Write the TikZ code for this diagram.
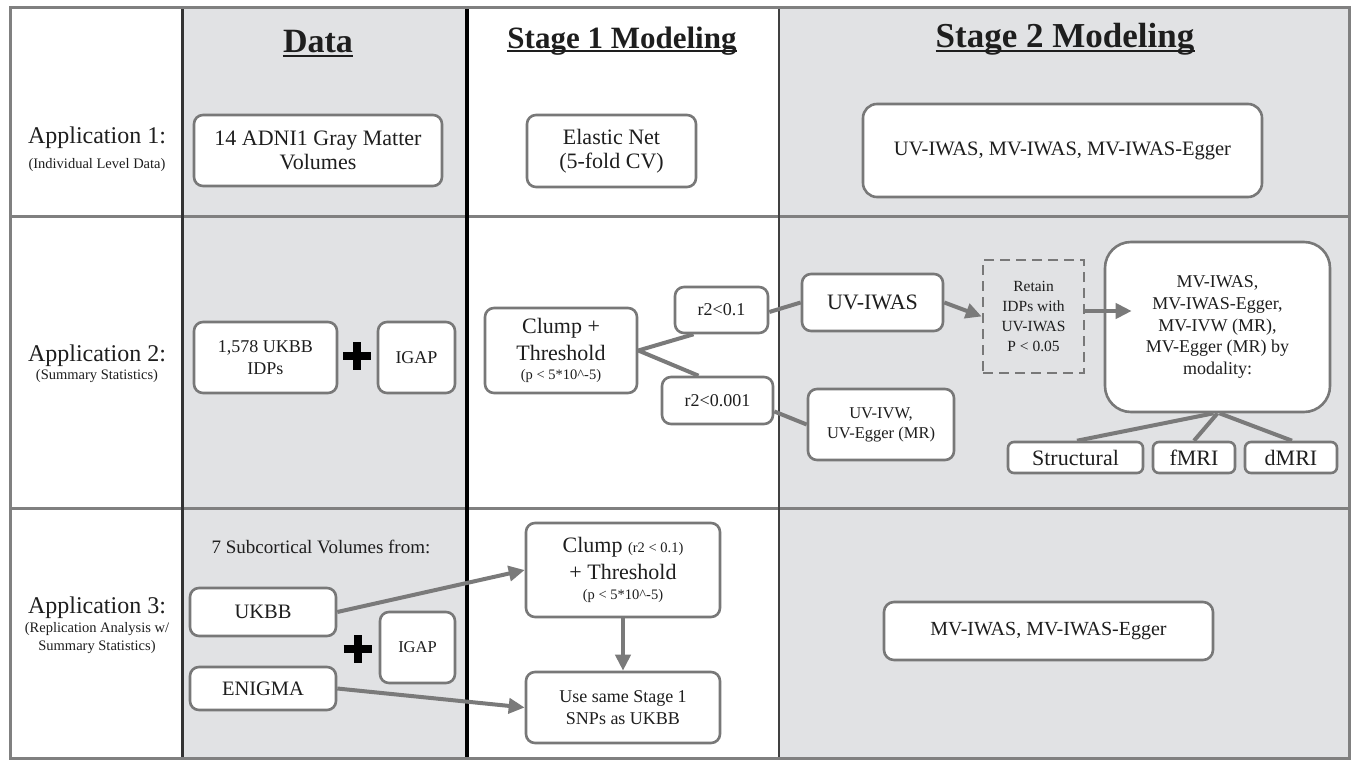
\documentclass[tikz,border=0pt]{standalone}
\usepackage{fontspec}
\setmainfont{Liberation Serif}
\usetikzlibrary{arrows.meta}
\definecolor{cellgray}{RGB}{225,226,228}
\definecolor{gridgray}{RGB}{128,128,128}
\definecolor{boxgray}{RGB}{120,120,120}
\definecolor{linegray}{RGB}{122,122,122}
\definecolor{ink}{RGB}{30,30,30}
\newcommand\fsz[2]{\fontsize{#1}{#2}\selectfont}

\begin{document}
\begin{tikzpicture}[x=1pt,y=-1pt,
  box/.style={draw=boxgray, line width=2.6pt, fill=white, rounded corners=9pt,
    align=center, inner sep=0pt, text=ink},
  conn/.style={draw=linegray, line width=4pt},
  arr/.style={conn, -{Triangle[length=16pt,width=15pt]}},
  lbl/.style={inner sep=0pt, text=ink, anchor=base},
  hdr/.style={inner sep=0pt, text=ink, anchor=base},
  uline/.style={draw=ink, line width=2pt},
  plus/.style={draw=black, line width=8pt}]

% page and column backgrounds
\useasboundingbox (0,0) rectangle (1355,760);
\fill[white] (0,0) rectangle (1355,760);
\fill[cellgray] (182,8) rectangle (467,758);
\fill[cellgray] (779,8) rectangle (1349,758);

% table rules
\draw[gridgray, line width=3pt] (10,216) -- (1349,216);
\draw[gridgray, line width=3pt] (10,508) -- (1349,508);
\draw[black!80, line width=3pt] (182,8) -- (182,758);
\draw[black, line width=3.5pt] (467,8) -- (467,758);
\draw[black!75, line width=2.5pt] (779,8) -- (779,758);
\draw[gridgray, line width=3pt] (10,8) rectangle (1349,758);

% column headers
\node[hdr, font={\fsz{34}{40}\bfseries}] (hdata) at (318,53) {Data};
\node[hdr, font={\fsz{31}{36}\bfseries}] (hst1) at (622,49) {Stage 1 Modeling};
\node[hdr, font={\fsz{35}{40}\bfseries}] (hst2) at (1065,48) {Stage 2 Modeling};
\draw[uline] ([yshift=-3pt]hdata.base west) -- ([yshift=-3pt]hdata.base east);
\draw[uline] ([yshift=-2.5pt]hst1.base west) -- ([yshift=-2.5pt]hst1.base east);
\draw[uline] ([yshift=-3pt]hst2.base west) -- ([yshift=-3pt]hst2.base east);

% row labels
\node[lbl, font=\fsz{24}{28}] (app1) at (97,143) {Application 1:};
\node[lbl, font=\fsz{14.5}{17}] (app1s) at (97,168) {(Individual Level Data)};
\node[lbl, font=\fsz{24}{28}] (app2) at (97,361) {Application 2:};
\node[lbl, font=\fsz{14.5}{17}] (app2s) at (97,379) {(Summary Statistics)};
\node[lbl, font=\fsz{24}{28}] (app3) at (97,613) {Application 3:};
\node[lbl, font=\fsz{14.5}{17}] (app3s) at (97,632) {(Replication Analysis w/};
\node[lbl, font=\fsz{14.5}{17}] (app3t) at (97,650) {Summary Statistics)};

% Application 1
\node[box, minimum width=248pt, minimum height=71pt, font=\fsz{22}{23.5}] (adni) at (318,150.5)
  {14 ADNI1 Gray Matter\\Volumes};
\node[box, minimum width=169pt, minimum height=72pt, font=\fsz{22}{23.5}] (enet) at (611.5,151)
  {Elastic Net\\(5-fold CV)};
\node[box, minimum width=399pt, minimum height=93pt, rounded corners=14pt, font=\fsz{20.5}{24}] (s2a) at (1062.5,150.5)
  {UV-IWAS, MV-IWAS, MV-IWAS-Egger};

% Application 2
\node[box, minimum width=143pt, minimum height=71pt, font=\fsz{18}{22}] (ukbb2) at (265.5,357.5)
  {1,578 UKBB\\IDPs};
\node[box, minimum width=77pt, minimum height=71pt, font=\fsz{18}{22}] (igap2) at (416.5,357.5) {IGAP};
\draw[plus] (343,356) -- (371,356);
\draw[plus] (357,342) -- (357,370);

\node[box, minimum width=152pt, minimum height=85pt, font=\fsz{22}{27}] (clump2) at (561,350.5)
  {Clump +\\Threshold\\[-8pt]{\fsz{14.5}{17}(p < 5*10\textasciicircum-5)}};
\node[box, minimum width=93pt, minimum height=46pt, font=\fsz{18}{22}] (r01) at (721.5,310) {r2<0.1};
\node[box, minimum width=111pt, minimum height=47pt, font=\fsz{18}{22}] (r001) at (717.5,400.5) {r2<0.001};
\node[box, minimum width=141pt, minimum height=57pt, font=\fsz{22}{26}] (uviwas) at (872.5,302.5) {UV-IWAS};
\node[box, minimum width=146pt, minimum height=71pt, font=\fsz{16.5}{20}] (uvivw) at (881,424.5)
  {UV-IVW,\\UV-Egger (MR)};
\node[box, minimum width=101pt, minimum height=113pt, rounded corners=0pt, dash pattern=on 10pt off 6pt,
  fill=none, font=\fsz{15.5}{19.7}] (retain) at (1033.5,316.5)
  {Retain\\IDPs with\\UV-IWAS\\P < 0.05};
\node[box, minimum width=225pt, minimum height=170pt, rounded corners=26pt, font=\fsz{18}{21.7}] (mv) at (1217.5,327)
  {MV-IWAS,\\MV-IWAS-Egger,\\MV-IVW (MR),\\MV-Egger (MR) by\\modality:};
\node[box, minimum width=135pt, minimum height=31pt, rounded corners=6pt, font=\fsz{22}{24}] (struct) at (1075.5,457.5) {Structural};
\node[box, minimum width=82pt, minimum height=31pt, rounded corners=6pt, font=\fsz{22}{24}] (fmri) at (1194,457.5) {fMRI};
\node[box, minimum width=92pt, minimum height=31pt, rounded corners=6pt, font=\fsz{22}{24}] (dmri) at (1291,457.5) {dMRI};

\draw[conn] (clump2.east) -- ([xshift=-28pt]r01.south);
\draw[conn] (clump2.east) -- ([xshift=-19pt]r001.north);
\draw[conn] ([yshift=-2pt]r01.east) -- (uviwas.west);
\draw[conn] ([yshift=-11pt]r001.east) -- (uvivw.west);
\draw[arr] (uviwas.east) -- (retain.west);
\coordinate (mvin) at ([xshift=28pt,yshift=16pt]mv.west);
\draw[arr] (retain.east |- mvin) -- (mvin);
\draw[conn] ([xshift=-4pt]mv.south) -- ([xshift=1.5pt]struct.north);
\draw[conn] (mv.south) -- (fmri.north);
\draw[conn] ([xshift=2pt]mv.south) -- ([xshift=1pt]dmri.north);

% Application 3
\node[inner sep=0pt, text=ink, font=\fsz{19}{22}] (sub) at (321,547) {7 Subcortical Volumes from:};
\node[box, minimum width=146pt, minimum height=48pt, font=\fsz{20.5}{24}] (ukbb3) at (263,612) {UKBB};
\node[box, minimum width=146pt, minimum height=43pt, font=\fsz{20.5}{24}] (enigma) at (263,688.5) {ENIGMA};
\node[box, minimum width=75pt, minimum height=71pt, font=\fsz{16.5}{20}] (igap3) at (417.5,647.5) {IGAP};
\draw[plus] (343.5,649) -- (371.5,649);
\draw[plus] (357.5,635) -- (357.5,663);

\node[box, minimum width=194pt, minimum height=94pt, font=\fsz{22}{27}] (clump3) at (623,570)
  {Clump {\fsz{14.5}{17}(r2 < 0.1)}\\+ Threshold\\[-7pt]{\fsz{14.5}{17}(p < 5*10\textasciicircum-5)}};
\node[box, minimum width=194pt, minimum height=71pt, font=\fsz{18}{22}] (same) at (623,707.5)
  {Use same Stage 1\\SNPs as UKBB};
\node[box, minimum width=329pt, minimum height=58pt, rounded corners=10pt, font=\fsz{20}{24}] (mv3) at (1048.5,631)
  {MV-IWAS, MV-IWAS-Egger};

\draw[arr] (ukbb3.east) -- (clump3.west);
\draw[arr] (enigma.east) -- (same.west);
\draw[arr] (clump3.south) -- (same.north);
\end{tikzpicture}
\end{document}
